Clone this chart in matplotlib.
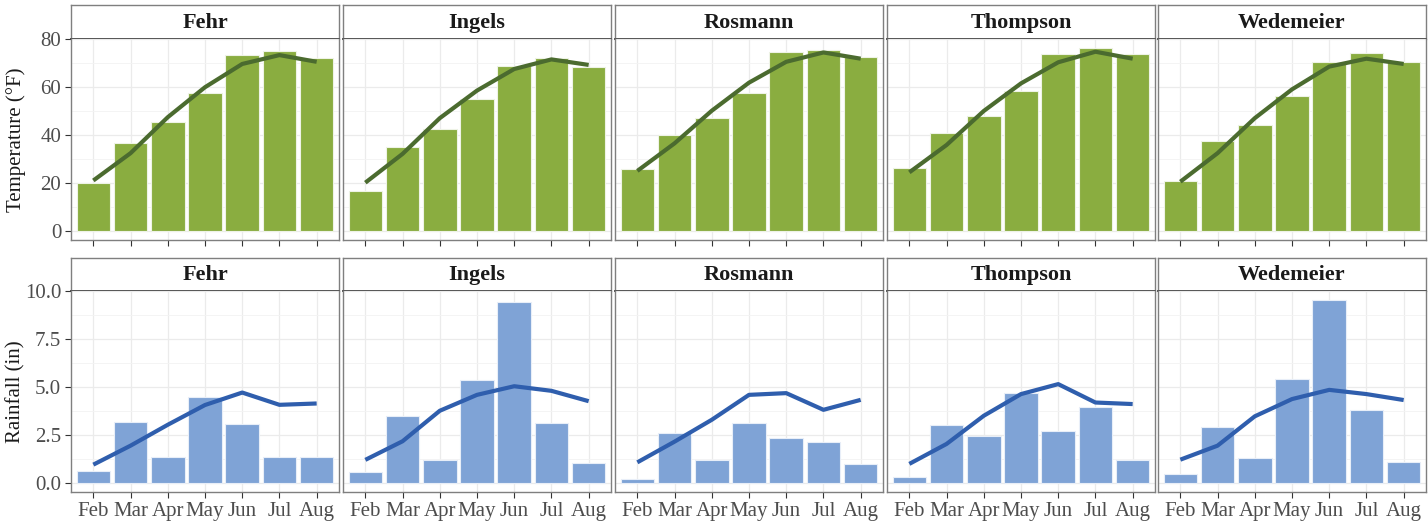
import matplotlib
matplotlib.use("Agg")
import matplotlib.pyplot as plt
from matplotlib.ticker import MultipleLocator

plt.rcParams['font.family'] = ['Liberation Serif', 'DejaVu Serif']

months = ["Feb", "Mar", "Apr", "May", "Jun", "Jul", "Aug"]
stations = ["Fehr", "Ingels", "Rosmann", "Thompson", "Wedemeier"]

# monthly temperature (bars) and normal temperature (line), deg F
temp_fehr = [20.1, 36.5, 45.3, 57.4, 73.3, 74.9, 72.1]
temp_ingels = [16.8, 34.9, 42.5, 55.0, 68.8, 72.2, 68.3]
temp_rosmann = [25.8, 39.9, 47.0, 57.6, 74.4, 75.4, 72.4]
temp_thompson = [26.1, 41.0, 47.8, 58.5, 73.6, 76.2, 73.7]
temp_wedemeier = [21.0, 37.4, 44.3, 56.3, 70.3, 74.3, 70.4]

tnorm_fehr = [21.0, 32.4, 47.4, 59.9, 69.6, 73.3, 70.5]
tnorm_ingels = [20.1, 32.1, 47.0, 58.5, 67.5, 71.5, 69.2]
tnorm_rosmann = [25.0, 36.5, 50.1, 61.8, 70.5, 74.4, 71.8]
tnorm_thompson = [24.4, 35.8, 50.0, 61.5, 70.3, 74.7, 71.8]
tnorm_wedemeier = [20.5, 32.4, 47.0, 59.0, 68.5, 71.8, 69.6]

# monthly rainfall (bars) and normal rainfall (line), inches
rain_fehr = [0.61, 3.15, 1.33, 4.50, 3.08, 1.35, 1.35]
rain_ingels = [0.55, 3.47, 1.21, 5.34, 9.43, 3.12, 1.02]
rain_rosmann = [0.21, 2.60, 1.21, 3.12, 2.34, 2.15, 0.99]
rain_thompson = [0.28, 3.03, 2.43, 4.71, 2.69, 3.95, 1.21]
rain_wedemeier = [0.45, 2.89, 1.28, 5.41, 9.53, 3.81, 1.11]

rnorm_fehr = [0.95, 1.94, 3.03, 4.06, 4.71, 4.07, 4.14]
rnorm_ingels = [1.20, 2.17, 3.76, 4.59, 5.04, 4.80, 4.26]
rnorm_rosmann = [1.07, 2.15, 3.29, 4.59, 4.68, 3.81, 4.33]
rnorm_thompson = [0.99, 2.03, 3.50, 4.63, 5.15, 4.19, 4.11]
rnorm_wedemeier = [1.21, 1.94, 3.47, 4.37, 4.85, 4.63, 4.32]

temps = [temp_fehr, temp_ingels, temp_rosmann, temp_thompson, temp_wedemeier]
tnorms = [tnorm_fehr, tnorm_ingels, tnorm_rosmann, tnorm_thompson, tnorm_wedemeier]
rains = [rain_fehr, rain_ingels, rain_rosmann, rain_thompson, rain_wedemeier]
rnorms = [rnorm_fehr, rnorm_ingels, rnorm_rosmann, rnorm_thompson, rnorm_wedemeier]

W, H = 1428, 521
fig = plt.figure(figsize=(W / 100, H / 100), dpi=100)

panel_x = [71, 343, 615, 887, 1158]
panel_w = 268
grid_col = "#ebebeb"
border_col = "#7f7f7f"


def px(x0, y0, w, h):
    # pixel box (top-left origin) -> figure fraction
    return [x0 / W, 1 - (y0 + h) / H, w / W, h / H]


def draw_row(bars, lines, top, strip_h, plot_h, bar_col, edge_col, line_col, major, ylabel, show_x):
    ymax = max(max(b) for b in bars + lines)
    pad = ymax * 0.05
    for i, name in enumerate(stations):
        sax = fig.add_axes(px(panel_x[i], top, panel_w, strip_h))
        sax.set_xticks([])
        sax.set_yticks([])
        for s in sax.spines.values():
            s.set_color(border_col)
            s.set_linewidth(1.0)
        sax.spines['bottom'].set_color("#555555")
        sax.spines['bottom'].set_linewidth(1.4)
        sax.text(0.5, 0.47, name, ha='center', va='center', fontsize=16,
                 fontweight='bold', color="#1a1a1a", transform=sax.transAxes)

        ax = fig.add_axes(px(panel_x[i], top + strip_h, panel_w, plot_h))
        xs = range(len(months))
        ax.bar(xs, bars[i], width=0.9, color=bar_col, edgecolor=edge_col,
               linewidth=0.8, zorder=2)
        ax.plot(xs, lines[i], color=line_col, linewidth=3, solid_capstyle='butt', zorder=3)
        ax.set_xlim(-0.6, 6.6)
        ax.set_ylim(-pad, ymax + pad)
        ax.yaxis.set_major_locator(MultipleLocator(major))
        ax.yaxis.set_minor_locator(MultipleLocator(major / 2))
        ax.set_xticks(list(xs))
        ax.grid(True, which='major', color=grid_col, linewidth=0.9, zorder=0)
        ax.grid(True, which='minor', axis='y', color="#f3f3f3", linewidth=0.6, zorder=0)
        ax.set_axisbelow(True)
        for s in ax.spines.values():
            s.set_color(border_col)
            s.set_linewidth(1.0)
        ax.spines['top'].set_visible(False)
        ax.tick_params(which='major', direction='out', length=4, color="#333333",
                       labelsize=15, labelcolor="#4d4d4d", pad=3)
        ax.tick_params(which='minor', length=0)
        if show_x:
            ax.set_xticklabels(months)
        else:
            ax.set_xticklabels([])
        if i == 0:
            if major == 2.5:
                ax.set_yticklabels(["%.1f" % t for t in ax.get_yticks()])
            ax.set_ylabel(ylabel, fontsize=15, color="#1a1a1a")
            ax.yaxis.set_label_coords(-0.168, 0.5)
        else:
            ax.set_yticklabels([])
            ax.tick_params(axis='y', length=0)


draw_row(temps, tnorms, 5, 34, 201, "#8aad40", "#eef3e6", "#4b6b2f", 20, "Temperature (°F)", False)
draw_row(rains, rnorms, 258, 33, 201, "#7fa3d6", "#e8eef8", "#2f5ead", 2.5, "Rainfall (in)", True)

fig.savefig("out.png", dpi=100, facecolor="white")
